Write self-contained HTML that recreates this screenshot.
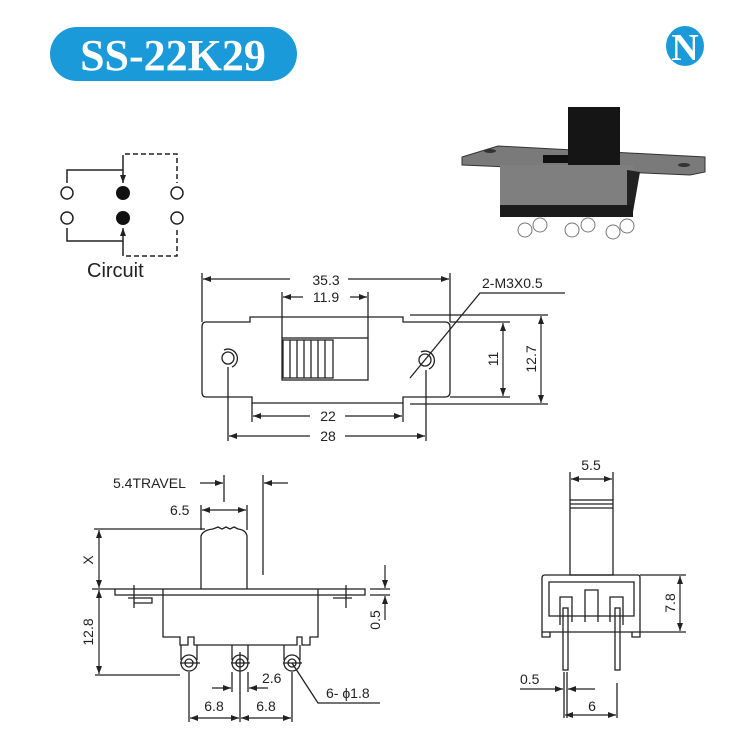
<!DOCTYPE html>
<html><head><meta charset="utf-8"><style>
body{margin:0;background:#fff}
svg{display:block}
text{font-family:"Liberation Sans",sans-serif;fill:#222}
</style></head><body>
<svg width="735" height="744" viewBox="0 0 735 744" xmlns="http://www.w3.org/2000/svg">
<defs>
<marker id="a" markerWidth="8" markerHeight="6" refX="8" refY="3" orient="auto-start-reverse" markerUnits="userSpaceOnUse"><path d="M0,0 L8,3 L0,6 z" fill="#222"/></marker>
</defs>
<!-- title -->
<rect x="50" y="27" width="247" height="54" rx="27" fill="#1a9ad9"/>
<text x="173" y="70" text-anchor="middle" font-family="Liberation Serif" font-weight="bold" font-size="44" style="font-family:'Liberation Serif',serif;fill:#fff">SS-22K29</text>
<ellipse cx="685" cy="46" rx="19" ry="20" fill="#1a9ad9"/>
<text x="685" y="60" text-anchor="middle" font-weight="bold" font-size="38" style="font-family:'Liberation Serif',serif;fill:#fff">N</text>

<!-- circuit -->
<g stroke="#222" stroke-width="1.5" fill="none">
<circle cx="67" cy="193" r="6"/><circle cx="67" cy="218" r="6"/>
<circle cx="177" cy="193" r="6"/><circle cx="177" cy="218" r="6"/>
<polyline points="67,183 67,170 123,170"/><line x1="123" y1="160" x2="123" y2="183" marker-end="url(#a)"/>
<polyline points="67,228 67,241 123,241"/><line x1="123" y1="251" x2="123" y2="228" marker-end="url(#a)"/>
<polyline points="123,160 123,154 177,154 177,183" stroke-dasharray="5,3"/>
<polyline points="123,251 123,256 177,256 177,228" stroke-dasharray="5,3"/>
</g>
<circle cx="123" cy="193" r="7" fill="#111"/><circle cx="123" cy="218" r="7" fill="#111"/>
<text x="87" y="277" font-size="20">Circuit</text>

<!-- photo -->
<polygon points="462,157 498,146 705,157 705,172 690,175 462,165" fill="#7a7a7a" stroke="#333"/>
<rect x="500" y="165" width="133" height="45" fill="#7f7f7f"/>
<polygon points="627,170 640,172 633,212 627,210" fill="#222"/>
<rect x="500" y="205" width="133" height="12" fill="#1b1b1b"/>
<rect x="543" y="155" width="25" height="8" fill="#111"/>
<rect x="568" y="107" width="52" height="58" fill="#151515"/>
<g fill="#fff" stroke="#777">
<circle cx="525" cy="230" r="7"/><circle cx="540" cy="225" r="7"/><circle cx="572" cy="230" r="7"/><circle cx="588" cy="225" r="7"/><circle cx="613" cy="232" r="7"/><circle cx="627" cy="226" r="7"/>
</g>
<ellipse cx="490" cy="151" rx="6" ry="2" fill="#333"/><ellipse cx="684" cy="165" rx="6" ry="2" fill="#333"/>

<!-- top view -->
<g stroke="#222" stroke-width="1.3" fill="none">
<path d="M206,322 H250 V317 H403 V322 H445 Q450,322 450,327 V392 Q450,397 445,397 H403 V403 H252 V397 H206 Q202,397 202,392 V327 Q202,322 206,322 Z"/>
<rect x="282" y="338" width="86" height="42"/>
<rect x="283" y="340" width="50" height="38"/>
<line x1="290" y1="340" x2="290" y2="378"/><line x1="297" y1="340" x2="297" y2="378"/><line x1="304" y1="340" x2="304" y2="378"/><line x1="311" y1="340" x2="311" y2="378"/><line x1="318" y1="340" x2="318" y2="378"/><line x1="325" y1="340" x2="325" y2="378"/>
<circle cx="228" cy="358" r="6"/><path d="M224,350 A9,9 0 1,1 232,367"/>
<circle cx="425" cy="360" r="6"/><path d="M421,352 A9,9 0 1,1 429,369"/>
<line x1="202" y1="273" x2="202" y2="322"/><line x1="450" y1="273" x2="450" y2="322"/>
<line x1="282" y1="292" x2="282" y2="338"/><line x1="368" y1="292" x2="368" y2="338"/>
<line x1="252" y1="403" x2="252" y2="422"/><line x1="403" y1="403" x2="403" y2="422"/>
<line x1="228" y1="367" x2="228" y2="441"/><line x1="426" y1="370" x2="426" y2="441"/>
<line x1="410" y1="315" x2="548" y2="315"/><line x1="450" y1="322" x2="510" y2="322"/>
<line x1="450" y1="397" x2="510" y2="397"/><line x1="410" y1="404" x2="548" y2="404"/>
<polyline points="410,378 480,293 565,293"/>
</g>
<g stroke="#222" stroke-width="1.2">
<line x1="203" y1="279" x2="290" y2="279" marker-start="url(#a)"/><line x1="348" y1="279" x2="449" y2="279" marker-end="url(#a)"/>
<line x1="283" y1="297" x2="303" y2="297" marker-start="url(#a)"/><line x1="350" y1="297" x2="367" y2="297" marker-end="url(#a)"/>
<line x1="253" y1="416" x2="310" y2="416" marker-start="url(#a)"/><line x1="345" y1="416" x2="402" y2="416" marker-end="url(#a)"/>
<line x1="229" y1="436" x2="310" y2="436" marker-start="url(#a)"/><line x1="345" y1="436" x2="425" y2="436" marker-end="url(#a)"/>
<line x1="503" y1="323" x2="503" y2="396" marker-start="url(#a)" marker-end="url(#a)"/>
<line x1="541" y1="316" x2="541" y2="403" marker-start="url(#a)" marker-end="url(#a)"/>
</g>
<g font-size="14">
<text x="326" y="285" text-anchor="middle">35.3</text>
<text x="326" y="302" text-anchor="middle">11.9</text>
<text x="328" y="421" text-anchor="middle">22</text>
<text x="328" y="441" text-anchor="middle">28</text>
<text x="482" y="288">2-M3X0.5</text>
<text transform="translate(498,359) rotate(-90)" text-anchor="middle">11</text>
<text transform="translate(536,359) rotate(-90)" text-anchor="middle">12.7</text>
</g>

<!-- side view -->
<g stroke="#222" stroke-width="1.3" fill="none">
<rect x="115" y="589" width="250" height="6"/>
<path d="M163,589 V637 H180 V645 H188 V637 H194 V645 H297 V637 H302 V645 H310 V637 H318 V589"/>
<path d="M201,589 V536 Q203,530 213,529 L218,527 L222,529 L226,527 L230,529 L234,527 L238,529 Q246,530 247,536 V589"/>
<path d="M181,645 V660 M197,645 V660 M232,645 V660 M248,645 V660 M284,645 V660 M300,645 V660"/>
<circle cx="189" cy="663" r="8"/><circle cx="189" cy="663" r="4"/>
<circle cx="240" cy="663" r="8"/><circle cx="240" cy="663" r="4"/>
<circle cx="292" cy="663" r="8"/><circle cx="292" cy="663" r="4"/>
<line x1="180" y1="663" x2="200" y2="663"/><line x1="231" y1="663" x2="250" y2="663"/><line x1="283" y1="663" x2="302" y2="663"/>
<line x1="189" y1="672" x2="189" y2="722"/><line x1="240" y1="652" x2="240" y2="722"/><line x1="292" y1="672" x2="292" y2="722"/>
<line x1="232" y1="672" x2="232" y2="692"/><line x1="248" y1="672" x2="248" y2="692"/>
<path d="M134,585 V608 M128,598 H152 V603 H134 M346,585 V608 M333,598 H352"/>
<line x1="94" y1="529" x2="205" y2="529"/><line x1="92" y1="589" x2="115" y2="589"/><line x1="95" y1="675" x2="180" y2="675"/>
<line x1="201" y1="505" x2="201" y2="530"/><line x1="247" y1="505" x2="247" y2="530"/>
<line x1="224" y1="475" x2="224" y2="502"/><line x1="263" y1="475" x2="263" y2="575"/>
<line x1="370" y1="589" x2="390" y2="589"/><line x1="370" y1="595" x2="390" y2="595"/>
<polyline points="292,663 318,703 380,703"/>
</g>
<g stroke="#222" stroke-width="1.2">
<line x1="99" y1="530" x2="99" y2="588" marker-start="url(#a)" marker-end="url(#a)"/>
<line x1="99" y1="590" x2="99" y2="674" marker-start="url(#a)" marker-end="url(#a)"/>
<line x1="202" y1="510" x2="246" y2="510" marker-start="url(#a)" marker-end="url(#a)"/>
<line x1="200" y1="483" x2="223" y2="483" marker-end="url(#a)"/>
<line x1="288" y1="483" x2="264" y2="483" marker-end="url(#a)"/>
<line x1="385" y1="565" x2="385" y2="588" marker-end="url(#a)"/>
<line x1="385" y1="620" x2="385" y2="596" marker-end="url(#a)"/>
<line x1="212" y1="688" x2="231" y2="688" marker-end="url(#a)"/>
<line x1="268" y1="688" x2="249" y2="688" marker-end="url(#a)"/>
<line x1="190" y1="718" x2="239" y2="718" marker-start="url(#a)" marker-end="url(#a)"/>
<line x1="241" y1="718" x2="291" y2="718" marker-start="url(#a)" marker-end="url(#a)"/>
</g>
<g font-size="14">
<text x="113" y="488">5.4TRAVEL</text>
<text x="170" y="515">6.5</text>
<text transform="translate(93,560) rotate(-90)" text-anchor="middle">X</text>
<text transform="translate(93,632) rotate(-90)" text-anchor="middle">12.8</text>
<text transform="translate(380,620) rotate(-90)" text-anchor="middle">0.5</text>
<text x="262" y="683">2.6</text>
<text x="326" y="698">6- ϕ1.8</text>
<text x="214" y="711" text-anchor="middle">6.8</text>
<text x="266" y="711" text-anchor="middle">6.8</text>
</g>

<!-- front view -->
<g stroke="#222" stroke-width="1.3" fill="none">
<rect x="570" y="500" width="43" height="75"/>
<line x1="570" y1="504" x2="613" y2="504"/><line x1="570" y1="508" x2="613" y2="508"/>
<path d="M545,575 H638 Q640,575 640,578 V632 H542 V578 Q542,575 545,575 Z"/>
<path d="M549,582 H634 V616 H549 Z"/>
<path d="M560,625 V597 H572 V622 M610,622 V597 H623 V625 M585,622 V590 H598 V622"/>
<path d="M542,632 V637 H550 V632 M632,632 V637 H640 V632"/>
<rect x="563" y="608" width="5" height="62"/><rect x="615" y="608" width="5" height="62"/>
<line x1="570" y1="472" x2="570" y2="500"/><line x1="613" y1="472" x2="613" y2="500"/>
<line x1="640" y1="575" x2="686" y2="575"/><line x1="640" y1="632" x2="686" y2="632"/>
<line x1="564" y1="672" x2="564" y2="718"/><line x1="567" y1="672" x2="567" y2="718"/><line x1="617" y1="683" x2="617" y2="718"/>
</g>
<g stroke="#222" stroke-width="1.2">
<line x1="571" y1="479" x2="612" y2="479" marker-start="url(#a)" marker-end="url(#a)"/>
<line x1="680" y1="576" x2="680" y2="631" marker-start="url(#a)" marker-end="url(#a)"/>
<line x1="520" y1="689" x2="563" y2="689" marker-end="url(#a)"/>
<line x1="595" y1="689" x2="568" y2="689" marker-end="url(#a)"/>
<line x1="565" y1="715" x2="616" y2="715" marker-start="url(#a)" marker-end="url(#a)"/>
</g>
<g font-size="14">
<text x="591" y="470" text-anchor="middle">5.5</text>
<text transform="translate(675,603) rotate(-90)" text-anchor="middle">7.8</text>
<text x="520" y="684">0.5</text>
<text x="592" y="711" text-anchor="middle">6</text>
</g>
</svg>
</body></html>
